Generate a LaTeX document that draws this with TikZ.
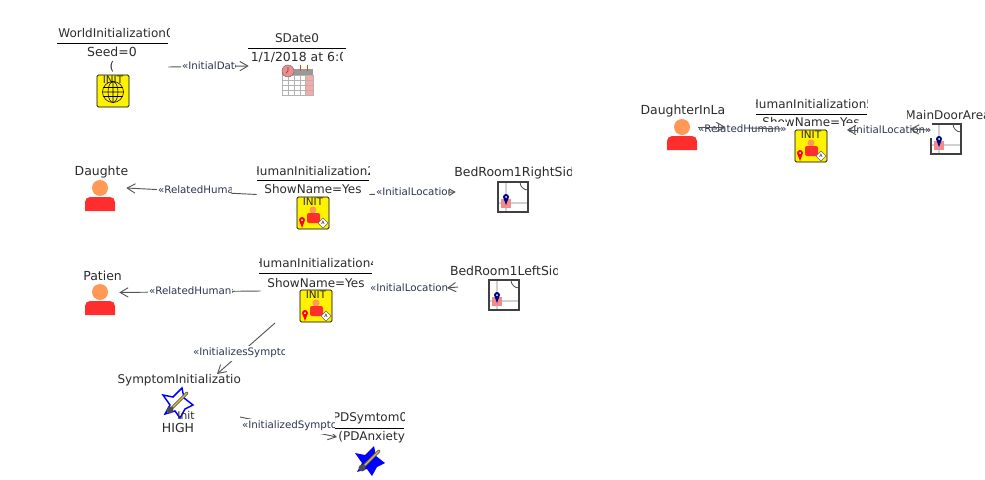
\documentclass[tikz,border=0pt]{standalone}
\usepackage{fontspec}
\setmainfont{DejaVu Sans}
\usetikzlibrary{arrows.meta,fit}
\definecolor{inkcol}{HTML}{2A2A2A}
\definecolor{linkcol}{HTML}{555555}
\definecolor{linktextcol}{HTML}{2B3550}
\definecolor{bodycol}{HTML}{FF2E2E}
\definecolor{headcol}{HTML}{FF9955}
\definecolor{pinkcol}{HTML}{F28C8C}
\tikzset{
	nametext/.style={inner sep=0pt,text=inkcol,font=\fontsize{9pt}{9pt}\selectfont},
	widetext/.style={inner sep=0pt,text=inkcol,font=\fontsize{9.35pt}{9.35pt}\selectfont},
	linktext/.style={inner sep=0.6pt,minimum height=11.25pt,anchor=west,fill=white,text=linktextcol,font=\fontsize{7.7pt}{7.7pt}\selectfont},
	hitbox/.style={inner sep=0pt,draw=none},
	conn/.style={draw=linkcol,line width=0.7pt,-{Straight Barb[length=6pt,width=7pt]}},
	plainconn/.style={draw=linkcol,line width=0.7pt},
	headline/.style={draw=black,line width=0.75pt},
	pics/person/.style={code={
		\fill[headcol] (0,-7) circle (8);
		\fill[bodycol] (-15,16) -- (-15,7) arc[start angle=180,end angle=270,radius=5] -- (10,2) arc[start angle=270,end angle=360,radius=5] -- (15,16) -- cycle;
	}},
	pics/room/.style={code={
		\draw[black!18,line width=0.8pt] (-7,-15) -- (-7,15) (-15,6) -- (15,6);
		\fill[pinkcol] (-12,2) rectangle (-2,11);
		\draw[black!75,line width=0.95pt] (-15,-15) rectangle (15,15);
		\draw[black!70,line width=0.6pt] (15,-7) arc[start angle=90,end angle=180,radius=8];
		\fill[blue!50!black] (-7,8) -- (-10,0) arc[start angle=180,end angle=360,radius=3] -- cycle;
		\fill[white] (-7,0) circle (1);
	}},
	pics/initframe/.style={code={
		\draw[fill=yellow,draw=black,rounded corners=1pt,line width=0.6pt] (-16,-16) rectangle (16,16);
		\node[inner sep=0pt,text=inkcol,font=\fontsize{7.8pt}{7.8pt}\selectfont] at (0,-11) {INIT};
	}},
	pics/initglobe/.style={code={
		\pic {initframe};
		\draw[line width=0.4pt] (0,1) circle (10.5);
		\draw[line width=0.4pt] (0,1) ellipse (5 and 10.5) (0,-9.5) -- (0,11.5) (-10.5,1) -- (10.5,1) (-9.5,-3.5) -- (9.5,-3.5) (-9.5,5.5) -- (9.5,5.5);
	}},
	pics/inithuman/.style={code={
		\pic {initframe};
		\fill[headcol] (0,-3) circle (3.5);
		\fill[bodycol,rounded corners=1.5pt] (-6,0) rectangle (7,10);
		\fill[red] (-11,15) -- (-14,7) arc[start angle=180,end angle=360,radius=3] -- cycle;
		\fill[white] (-11,7) circle (1);
		\draw[fill=white,draw=black!60,line width=0.3pt] (10,5) -- (15,10) -- (10,15) -- (5,10) -- cycle;
		\node[inner sep=0pt,font=\fontsize{3.5pt}{3.5pt}\selectfont] at (10,10) {A};
	}},
	pics/calendar/.style={code={
		\fill[black!40] (-15,-11) rectangle (16,-5);
		\fill[pinkcol!75] (8,-5) rectangle (16,15);
		\draw[black!30,line width=0.4pt] (-15,-5) rectangle (16,15);
		\foreach \gx in {-9,-3,3,8} {\draw[black!30,line width=0.4pt] (\gx,-5) -- (\gx,15);}
		\foreach \gy in {0,5,10} {\draw[black!30,line width=0.4pt] (-15,\gy) -- (16,\gy);}
		\draw[fill=pinkcol,draw=black!55,line width=0.4pt] (-9,-9) circle (6);
		\draw[black!70,line width=0.4pt] (-9,-9) -- (-9,-13) (-9,-9) -- (-11,-7);
		\draw[orange!70!black,line width=0.7pt] (3,-15) -- (3,-9) (10,-15) -- (10,-9);
	}},
	pics/symptom/.style={code={
		\path[pic actions] (-15,-8) -- (-5,-6) -- (4,-15) -- (6,-5) -- (15,2) -- (7,6) -- (2,15) -- (-3,8) -- (-13,11) -- (-8,2) -- cycle;
		\draw[black!65,line width=2.3pt,line cap=round] (-8,7) -- (9,-10);
		\draw[yellow!50!brown,line width=0.9pt,line cap=round] (-5,4) -- (9,-10);
		\fill[black!70] (-8,7) circle (3.4);
	}},
}
% clipped text: style, name, clip from, clip to, x of the text, y, text
\newcommand{\cliptext}[7][nametext]{
	\begin{scope}
		\clip (#3,#6-9) rectangle (#4,#6+9);
		\node[#1] (#2) at (#5,#6) {#7};
	\end{scope}
}
\begin{document}
\begin{tikzpicture}[x=0.75pt,y=-0.75pt]
	\useasboundingbox (0,0) rectangle (985,479);
	% world and date
	\cliptext{worldName}{56}{169}{116}{33}{WorldInitialization0}
	\draw[headline] (57,43) -- (168,43);
	\node[widetext] (worldSeed) at (112,52) {Seed=0};
	\node[nametext] (worldOpen) at (112,67) {(};
	\pic at (113,91) {initglobe};
	\cliptext{dateName}{248}{346}{297}{38}{SDate0}
	\draw[headline] (248,48) -- (346,48);
	\cliptext[widetext]{dateValue}{248}{342}{303}{57}{1/1/2018 at 6:00}
	\pic at (297,80) {calendar};
	\node[hitbox,fit={(56,27)(168,107)}] (world) {};
	\node[hitbox,fit={(249,32)(346,100)}] (date) {};
	% daughter
	\cliptext[widetext]{daughterName}{75}{127}{104}{172}{Daughter}
	\pic at (100,195) {person};
	\node[hitbox,fit={(75,165)(126,211)}] (daughter) {};
	\cliptext{humanTwoName}{257}{369}{313}{171}{HumanInitialization2}
	\draw[headline] (257,180) -- (369,180);
	\cliptext{humanTwoShow}{257}{369}{313}{189}{ShowName=Yes}
	\pic at (313,213) {inithuman};
	\node[hitbox,fit={(257,160)(369,229)}] (humanTwo) {};
	\cliptext[widetext]{bedRightName}{455}{571}{518}{173}{BedRoom1RightSide}
	\pic at (513,197) {room};
	\node[hitbox,fit={(456,173)(571,211)}] (bedRight) {};
	% patient
	\cliptext[widetext]{patientName}{82}{120}{105}{276}{Patient}
	\pic at (100,299) {person};
	\node[hitbox,fit={(82,270)(119,315)}] (patient) {};
	\cliptext{humanFourName}{259}{372}{316}{263}{HumanInitialization4}
	\draw[headline] (259,273) -- (372,273);
	\cliptext{humanFourShow}{259}{372}{316}{283}{ShowName=Yes}
	\pic at (316,306) {inithuman};
	\node[hitbox,fit={(261,258)(372,324)}] (humanFour) {};
	\cliptext[widetext]{bedLeftName}{450}{557}{509}{271}{BedRoom1LeftSide}
	\pic at (504,295) {room};
	\coordinate (bedLeftIn) at (458,287);
	\coordinate (bedLeftTip) at (447,288);
	\coordinate (humanFourOut) at (275,323);
	% symptom
	\cliptext{symptomName}{117}{240}{183}{380}{SymptomInitialization}
	\pic[draw=blue,line width=1.1pt] at (178,403) {symptom};
	\node[inner sep=0pt,text=inkcol,font=\fontsize{8pt}{8pt}\selectfont] (symptomInit) at (186,415) {Init};
	\node[widetext] (symptomHigh) at (178,428) {HIGH};
	\coordinate (symptomIn) at (217,374);
	\coordinate (symptomOut) at (240,417);
	\cliptext{pdName}{335}{404}{370}{418}{PDSymtom0}
	\draw[headline] (335,428) -- (404,428);
	\cliptext{pdValue}{335}{404}{374}{437}{(PDAnxiety)}
	\pic[fill=blue] at (370,461) {symptom};
	\coordinate (pdIn) at (337,437);
	% connectors
	\draw[conn] (world.east) -- (date.west);
	\draw[conn] (humanTwo.west) -- (daughter.east);
	\draw[conn] (humanTwo.east) -- (bedRight.west);
	\draw[conn] (humanFour.west) -- (patient.east);
	\draw[conn] (humanFourOut) -- (symptomIn);
	\draw[conn] (symptomOut) -- (pdIn);
	\cliptext[linktext]{dateLink}{181}{235}{181}{66}{«InitialDate»}
	\cliptext[linktext]{daughterLink}{157}{231}{157}{190}{«RelatedHuman»}
	\cliptext[linktext]{bedRightLink}{375}{449}{375}{192}{«InitialLocation»}
	\cliptext[linktext]{patientLink}{148}{232}{148}{291}{«RelatedHuman»}
	\cliptext[linktext]{bedLeftLink}{369}{447}{369}{288}{«InitialLocation»}
	\cliptext[linktext]{symptomLink}{192}{284}{192}{353}{«InitializesSymptom»}
	\cliptext[linktext]{pdLink}{241}{334}{241}{426}{«InitializedSymptom»}
	\draw[conn] (bedLeftIn) -- (bedLeftTip);
	% top right group
	\cliptext[widetext]{lawName}{641}{724}{688}{111}{DaughterInLaw}
	\pic at (682,134) {person};
	\node[hitbox,fit={(667,119)(725,135)}] (law) {};
	\cliptext{humanFiveName}{756}{867}{812}{104}{HumanInitialization5}
	\draw[headline] (756,114) -- (867,114);
	\cliptext{humanFiveShow}{756}{867}{811}{122}{ShowName=Yes}
	\pic at (811,146) {inithuman};
	\node[hitbox,fit={(782,100)(867,158)}] (humanFive) {};
	\cliptext{doorName}{907}{985}{948}{115}{MainDoorArea}
	\pic at (946,139) {room};
	\node[hitbox,fit={(930,124)(961,136)}] (door) {};
	\node[linktext] (lawLink) at (697,129) {«RelatedHuman»};
	\node[linktext] (doorLink) at (846,130) {«InitialLocation»};
	\coordinate (lawTail) at (698,127);
	\coordinate (lawMid) at (750,128);
	\coordinate (doorTip) at (910,129);
	\coordinate (doorStubFrom) at (858,130);
	\coordinate (doorStubTo) at (847,130);
	\draw[conn] (lawTail) -- (law.east);
	\draw[plainconn] (lawMid) -- (humanFive.west);
	\draw[conn] (door.west) -- (doorTip);
	\draw[conn] (doorStubFrom) -- (doorStubTo);
\end{tikzpicture}
\end{document}
